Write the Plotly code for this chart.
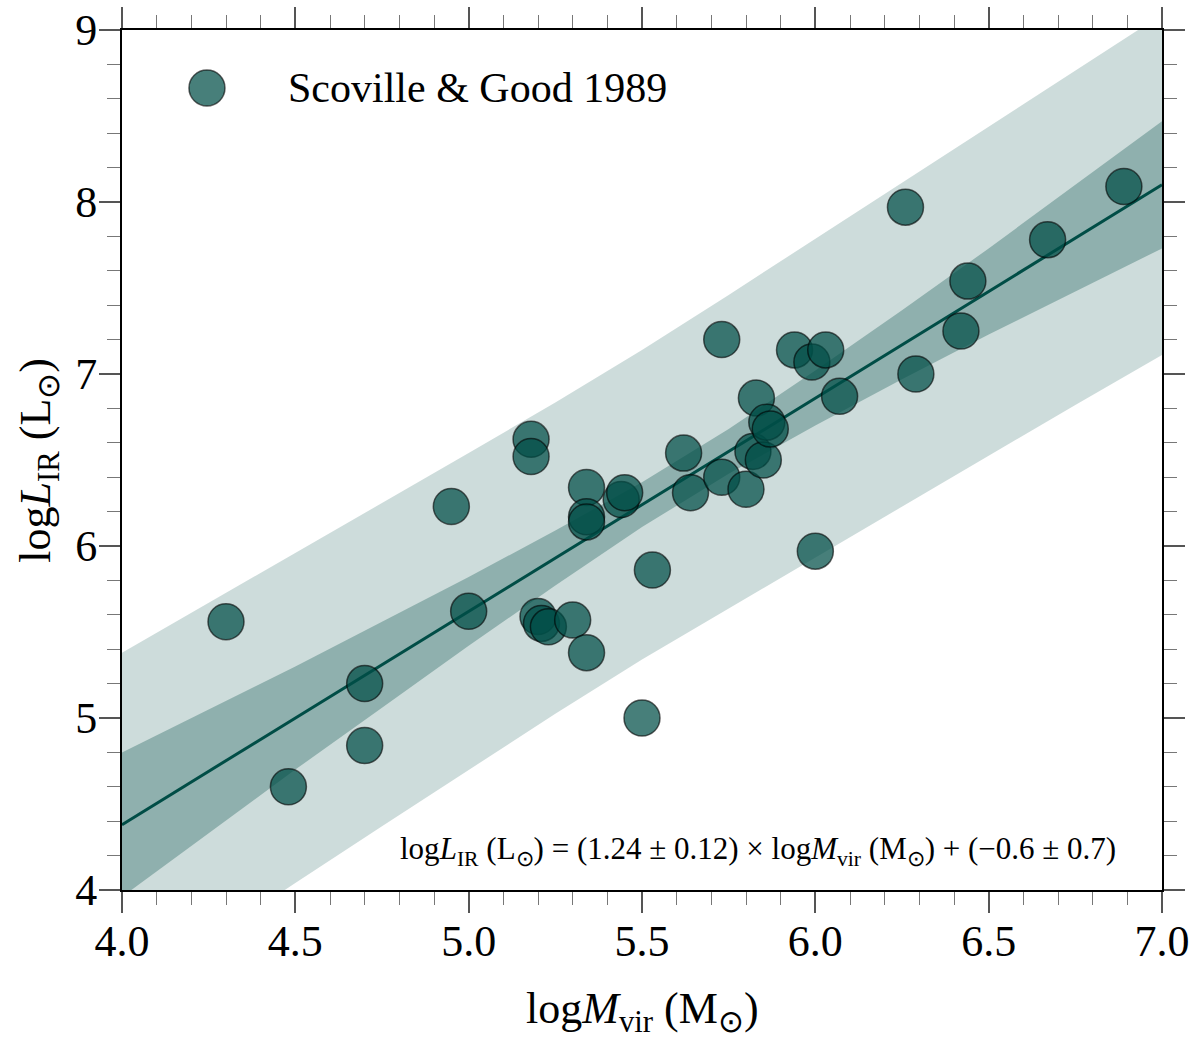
import plotly.graph_objects as go

# Scoville & Good 1989: virial mass vs IR luminosity (log values)
log_mvir = [4.30, 4.48, 4.70, 4.70, 4.95, 5.00, 5.18, 5.18, 5.20, 5.21,
            5.23, 5.30, 5.34, 5.34, 5.34, 5.34, 5.44, 5.45, 5.50, 5.53,
            5.62, 5.64, 5.73, 5.73, 5.80, 5.82, 5.83, 5.85, 5.86, 5.87,
            5.94, 5.99, 6.00, 6.03, 6.07, 6.26, 6.29, 6.42, 6.44, 6.67,
            6.89]
log_lir = [5.56, 4.60, 5.20, 4.84, 6.23, 5.62, 6.62, 6.52, 5.59, 5.55,
           5.53, 5.57, 5.38, 6.34, 6.17, 6.14, 6.27, 6.31, 5.00, 5.86,
           6.54, 6.31, 7.20, 6.40, 6.33, 6.55, 6.86, 6.50, 6.72, 6.68,
           7.14, 7.07, 5.97, 7.14, 6.87, 7.97, 7.00, 7.25, 7.54, 7.78,
           8.09]

# best fit line end points
fit_x = [4.0, 7.0]
fit_y = [4.38, 8.10]

# band edges sampled along x
band_x = [4.0, 4.25, 4.5, 4.75, 5.0, 5.25, 5.5, 5.75, 6.0, 6.25, 6.5, 6.75, 7.0]
outer_hi = [5.38, 5.67, 5.96, 6.25, 6.54, 6.835, 7.14, 7.46, 7.785, 8.11, 8.435, 8.76, 9.09]
outer_lo = [3.38, 3.71, 4.04, 4.37, 4.70, 5.025, 5.34, 5.64, 5.935, 6.23, 6.525, 6.82, 7.11]
inner_hi = [4.80, 5.05, 5.30, 5.56, 5.82, 6.09, 6.37, 6.68, 7.02, 7.37, 7.73, 8.10, 8.47]
inner_lo = [3.96, 4.33, 4.70, 5.06, 5.42, 5.77, 6.11, 6.42, 6.70, 6.97, 7.23, 7.48, 7.73]

x_ticks = [4.0, 4.5, 5.0, 5.5, 6.0, 6.5, 7.0]
y_ticks = [4, 5, 6, 7, 8, 9]

FONT = "Liberation Serif"
TEAL = "rgb(0,77,70)"
MARK = "rgba(0,77,70,0.72)"
EDGE = "rgba(0,0,0,0.6)"

fig = go.Figure()

# outer (prediction) band
fig.add_trace(go.Scatter(
    x=band_x + band_x[::-1], y=outer_hi + outer_lo[::-1],
    fill="toself", fillcolor="rgba(0,77,70,0.195)",
    line=dict(width=0), mode="lines", hoverinfo="skip", showlegend=False))

# inner (confidence) band
fig.add_trace(go.Scatter(
    x=band_x + band_x[::-1], y=inner_hi + inner_lo[::-1],
    fill="toself", fillcolor="rgba(0,77,70,0.3)",
    line=dict(width=0), mode="lines", hoverinfo="skip", showlegend=False))

fig.add_trace(go.Scatter(
    x=fit_x, y=fit_y, mode="lines",
    line=dict(color=TEAL, width=3), showlegend=False))

fig.add_trace(go.Scatter(
    x=log_mvir, y=log_lir, mode="markers", name="Scoville & Good 1989",
    marker=dict(size=36, color=MARK, line=dict(color=EDGE, width=1.5)),
    showlegend=False))

axis_common = dict(
    showline=True, linecolor="black", linewidth=2, mirror="allticks",
    ticks="outside", ticklen=21, tickwidth=1.5, tickcolor="#555",
    showgrid=False, zeroline=False,
    tickfont=dict(family=FONT, size=44, color="black"),
)

fig.update_xaxes(
    range=[4.0, 7.0], tickvals=x_ticks, tickformat=".1f",
    minor=dict(ticks="outside", ticklen=13, dtick=0.1, tickwidth=1.2, tickcolor="#777"),
    ticklabelstandoff=-10,
    **axis_common)

fig.update_yaxes(
    range=[4, 9], tickvals=y_ticks,
    minor=dict(ticks="outside", ticklen=13, dtick=0.2, tickwidth=1.2, tickcolor="#777"),
    ticklabelstandoff=-7,
    **axis_common)

# axis titles as annotations so the margins stay fixed
fig.add_annotation(x=0.5, y=-0.141, xref="paper", yref="paper",
                   xanchor="center", yanchor="middle", showarrow=False,
                   text="log<i>M</i><sub>vir</sub> (M<sub>⊙</sub>)",
                   font=dict(family=FONT, size=44, color="black"))
fig.add_annotation(x=-0.081, y=0.5, xref="paper", yref="paper",
                   xanchor="center", yanchor="middle", showarrow=False,
                   textangle=-90,
                   text="log<i>L</i><sub>IR</sub> (L<sub>⊙</sub>)",
                   font=dict(family=FONT, size=44, color="black"))

# hand-made legend entry (big marker)
fig.add_shape(type="circle", xref="paper", yref="paper",
              xsizemode="pixel", ysizemode="pixel",
              xanchor=0.0817, yanchor=0.9326, x0=-18, x1=18, y0=-18, y1=18,
              fillcolor=MARK, line=dict(color=EDGE, width=1.5))
fig.add_annotation(x=0.158, y=0.9326, xref="paper", yref="paper",
                   xanchor="left", yanchor="middle", showarrow=False,
                   text="Scoville & Good 1989",
                   font=dict(family=FONT, size=42, color="black"))

fig.add_annotation(x=0.9577, y=0.0453, xref="paper", yref="paper",
                   xanchor="right", yanchor="middle", showarrow=False,
                   text="log<i>L</i><sub>IR</sub> (L<sub>⊙</sub>) = (1.24 ± 0.12) × "
                        "log<i>M</i><sub>vir</sub> (M<sub>⊙</sub>) + (−0.6 ± 0.7)",
                   font=dict(family=FONT, size=31, color="black"))

fig.update_layout(
    width=1200, height=1038,
    margin=dict(l=122, r=38, t=30, b=148, autoexpand=False),
    paper_bgcolor="white", plot_bgcolor="white",
    showlegend=False,
)

# page body has a default 8px margin; drop it so the figure sits at the origin
fig.write_html("out.html", config={"displayModeBar": False},
               post_script="document.body.style.margin='0';")
